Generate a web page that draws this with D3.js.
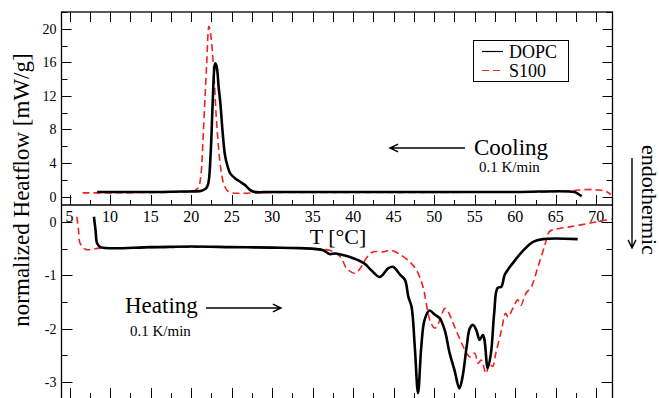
<!DOCTYPE html>
<html>
<head>
<meta charset="utf-8">
<script src="https://cdn.jsdelivr.net/npm/d3@7"></script>
<style>
  body { margin: 0; background: #fff; }
  text { font-family: "Liberation Serif", "Times New Roman", serif; fill: #000; }
</style>
</head>
<body>
<div id="chart-area"></div>
<script>
// cooling scans, [T in °C, heatflow in mW/g]
var coolDOPC = [[8.4,0.55],[12,0.55],[16,0.55],[19,0.6],[20.5,0.62],[21.3,0.7],[21.8,0.95],[22.1,1.5],[22.4,5],
    [22.65,11],[22.85,15.2],[22.97,15.9],[23.15,15.5],[23.4,13],[23.6,11.2],[23.9,7.5],[24.2,4.8],[24.5,3.6],
    [24.8,2.8],[25.4,2.2],[26.0,1.8],[26.6,1.4],[27.1,0.95],[27.6,0.6],[30,0.55],[40,0.55],[50,0.55],[60,0.55],
    [67.3,0.55],[67.8,0.3],[68.2,0.05]];
var coolS100 = [[6.6,0.45],[10,0.45],[15,0.5],[19,0.55],[20.4,0.7],[20.9,1.1],[21.2,2.5],[21.5,7.6],[21.9,15.5],
    [22.2,20.3],[22.45,19],[22.75,15.5],[23.1,9.5],[23.4,5.6],[23.7,3.0],[24.0,1.6],[24.4,0.8],[24.8,0.5],
    [30,0.5],[40,0.5],[50,0.5],[60,0.55],[65,0.6],[67,0.7],[68.3,0.83],[70,0.8],[71.2,0.63],[71.8,0.24]];

// heating scans
var heatDOPC = [[8.0,0.1],[8.2,-0.15],[8.4,-0.4],[8.8,-0.47],[15,-0.47],[20,-0.46],[25,-0.47],[30,-0.48],
    [33.4,-0.49],[36.3,-0.53],[37.1,-0.6],[37.8,-0.59],[40.0,-0.68],[41.4,-0.78],[42.2,-0.9],[43.3,-1.03],
    [44.3,-0.87],[44.9,-0.84],[45.8,-0.99],[46.4,-1.09],[46.8,-1.4],[47.2,-1.59],[47.6,-2.34],[48.0,-3.21],
    [48.4,-2.34],[48.8,-1.84],[49.4,-1.66],[50.1,-1.74],[50.7,-1.81],[51.3,-2.03],[51.9,-2.46],[52.5,-2.78],
    [53.1,-3.12],[53.5,-2.9],[54.0,-2.34],[54.4,-1.99],[54.8,-1.93],[55.2,-2.03],[55.6,-2.21],[56.0,-2.12],
    [56.2,-2.21],[56.6,-2.74],[57.0,-2.46],[57.4,-1.71],[57.8,-1.24],[58.3,-1.21],[58.7,-0.99],[59.7,-0.77],
    [61.0,-0.53],[62.2,-0.37],[63.4,-0.32],[67.7,-0.32]];
var heatS100 = [[5.9,0.1],[6.1,-0.15],[6.3,-0.4],[6.95,-0.51],[8.8,-0.49],[15,-0.48],[20,-0.47],[25,-0.47],
    [30,-0.48],[35,-0.5],[37.1,-0.53],[38.4,-0.65],[39.2,-0.87],[40.2,-0.96],[41.0,-0.84],[41.6,-0.68],
    [42.4,-0.56],[43.7,-0.56],[44.7,-0.53],[45.9,-0.62],[47.0,-0.75],[47.8,-0.9],[48.6,-1.21],[49.2,-1.68],
    [49.6,-1.9],[50.1,-1.99],[50.7,-1.84],[51.3,-1.62],[51.7,-1.68],[52.5,-1.96],[53.4,-2.28],[54.0,-2.46],
    [54.4,-2.53],[55.0,-2.46],[55.4,-2.65],[55.8,-2.59],[56.4,-2.84],[56.8,-2.65],[57.2,-2.71],[57.6,-2.46],
    [58.3,-2.03],[58.8,-1.71],[59.1,-1.78],[59.7,-1.62],[60.3,-1.46],[60.7,-1.56],[61.3,-1.34],[62.0,-1.21],
    [62.8,-0.84],[63.6,-0.46],[64.2,-0.18],[64.8,-0.14],[66.7,-0.09],[69.6,-0.01],[71.2,0.04],[71.9,0.06]];

var xTicks = [5, 10, 15, 20, 25, 30, 35, 40, 45, 50, 55, 60, 65, 70];
var topTicks = [0, 4, 8, 12, 16, 20];
var bottomTicks = [0, -1, -2, -3];
var seriesNames = ["DOPC", "S100"];

var width = 659, height = 398;
var plotLeft = 61.5, plotRight = 612.5, plotTop = 12, plotMid = 205, plotBottom = 399;
var red = "#ee2222";

var svg = d3.select("#chart-area").append("svg")
    .attr("width", width)
    .attr("height", height);

var x = d3.scaleLinear().domain([4, 72]).range([plotLeft, plotRight]);
var yTop = d3.scaleLinear().domain([-1, 22]).range([plotMid, plotTop]);
var yBot = d3.scaleLinear().domain([0.32, -3.32]).range([plotMid, plotBottom]);

var minorX = d3.range(5, 72, 2.5);

function isMajor(v, step) { return Math.abs(v / step - Math.round(v / step)) < 1e-6; }

// clip paths
svg.append("clipPath").attr("id", "clipTop").append("rect")
    .attr("x", plotLeft).attr("y", plotTop).attr("width", plotRight - plotLeft).attr("height", plotMid - plotTop);
svg.append("clipPath").attr("id", "clipBot").append("rect")
    .attr("x", plotLeft).attr("y", plotMid).attr("width", plotRight - plotLeft).attr("height", plotBottom - plotMid);

// ticks
var ticks = svg.append("g").attr("stroke", "#000").attr("stroke-width", 1);
minorX.forEach(function (t) {
    var px = Math.round(x(t)) + 0.5;
    var maj = isMajor(t, 5);
    ticks.append("line").attr("x1", px).attr("x2", px).attr("y1", plotTop).attr("y2", plotTop + 10);
    ticks.append("line").attr("x1", px).attr("x2", px).attr("y1", plotMid).attr("y2", plotMid - (maj ? 10 : 5));
    ticks.append("line").attr("x1", px).attr("x2", px).attr("y1", plotBottom).attr("y2", plotBottom - (maj ? 11 : 6));
});
d3.range(0, 22.1, 2).forEach(function (t) {
    var py = Math.round(yTop(t)) + 0.5;
    var len = isMajor(t, 4) ? 10 : 6;
    ticks.append("line").attr("x1", plotLeft).attr("x2", plotLeft + len).attr("y1", py).attr("y2", py);
    ticks.append("line").attr("x1", plotRight).attr("x2", plotRight - len).attr("y1", py).attr("y2", py);
});
d3.range(0, -3.3, -0.5).forEach(function (t) {
    var py = Math.round(yBot(t)) + 0.5;
    var len = isMajor(t, 1) ? 11 : 6;
    ticks.append("line").attr("x1", plotLeft).attr("x2", plotLeft + len).attr("y1", py).attr("y2", py);
    ticks.append("line").attr("x1", plotRight).attr("x2", plotRight - len).attr("y1", py).attr("y2", py);
});

// frames
svg.append("rect")
    .attr("x", plotLeft).attr("y", plotTop).attr("width", plotRight - plotLeft).attr("height", plotBottom - plotTop)
    .attr("fill", "none").attr("stroke", "#000").attr("stroke-width", 1.3);
svg.append("line")
    .attr("x1", plotLeft).attr("x2", plotRight).attr("y1", plotMid).attr("y2", plotMid)
    .attr("stroke", "#000").attr("stroke-width", 1.3);

// tick labels
svg.selectAll(".xlab").data(xTicks).enter().append("text")
    .attr("x", function (d) { return x(d); })
    .attr("y", plotMid + 17)
    .attr("text-anchor", "middle")
    .style("font-size", "16px")
    .text(function (d) { return d; });
svg.selectAll(".ytlab").data(topTicks).enter().append("text")
    .attr("x", plotLeft - 5)
    .attr("y", function (d) { return yTop(d) + 5; })
    .attr("text-anchor", "end")
    .style("font-size", "14px")
    .text(function (d) { return d; });
svg.selectAll(".yblab").data(bottomTicks).enter().append("text")
    .attr("x", plotLeft - 5)
    .attr("y", function (d) { return yBot(d) + 5; })
    .attr("text-anchor", "end")
    .style("font-size", "14px")
    .text(function (d) { return d; });

// series
var lineTop = d3.line().x(function (d) { return x(d[0]); }).y(function (d) { return yTop(d[1]); })
    .curve(d3.curveCatmullRom.alpha(0.5));
var lineBot = d3.line().x(function (d) { return x(d[0]); }).y(function (d) { return yBot(d[1]); })
    .curve(d3.curveCatmullRom.alpha(0.5));

var gTop = svg.append("g").attr("clip-path", "url(#clipTop)");
var gBot = svg.append("g").attr("clip-path", "url(#clipBot)");

gTop.append("path").attr("d", lineTop(coolS100))
    .attr("fill", "none").attr("stroke", red).attr("stroke-width", 1.6).attr("stroke-dasharray", "7,4");
gTop.append("path").attr("d", lineTop(coolDOPC))
    .attr("fill", "none").attr("stroke", "#000").attr("stroke-width", 2.6);
gBot.append("path").attr("d", lineBot(heatS100))
    .attr("fill", "none").attr("stroke", red).attr("stroke-width", 1.6).attr("stroke-dasharray", "7,4");
gBot.append("path").attr("d", lineBot(heatDOPC))
    .attr("fill", "none").attr("stroke", "#000").attr("stroke-width", 2.6);

// legend
var legend = svg.append("g");
legend.append("rect").attr("x", 473.5).attr("y", 40.5).attr("width", 95).attr("height", 41)
    .attr("fill", "#fff").attr("stroke", "#000").attr("stroke-width", 1);
legend.append("line").attr("x1", 482).attr("x2", 503).attr("y1", 51.5).attr("y2", 51.5)
    .attr("stroke", "#000").attr("stroke-width", 1.2);
legend.append("line").attr("x1", 482).attr("x2", 503).attr("y1", 70.5).attr("y2", 70.5)
    .attr("stroke", red).attr("stroke-width", 1.2).attr("stroke-dasharray", "7,4");
legend.selectAll("text").data(seriesNames).enter().append("text")
    .attr("x", 509)
    .attr("y", function (d, i) { return 57.5 + i * 19; })
    .style("font-size", "18px")
    .text(function (d) { return d; });

// annotations
function arrow(x1, y1, x2, y2) {
    var a = Math.atan2(y2 - y1, x2 - x1), h = 9, w = 0.45;
    svg.append("path")
        .attr("d", "M" + x1 + "," + y1 + "L" + x2 + "," + y2 +
            "M" + (x2 - h * Math.cos(a - w)) + "," + (y2 - h * Math.sin(a - w)) +
            "L" + x2 + "," + y2 +
            "L" + (x2 - h * Math.cos(a + w)) + "," + (y2 - h * Math.sin(a + w)))
        .attr("fill", "none").attr("stroke", "#000").attr("stroke-width", 1.4);
}

svg.append("text").attr("x", 474).attr("y", 155).style("font-size", "23px").text("Cooling");
svg.append("text").attr("x", 479).attr("y", 172).style("font-size", "15px").text("0.1 K/min");
arrow(465, 148, 390, 148);

svg.append("text").attr("x", 125).attr("y", 313).style("font-size", "23px").text("Heating");
svg.append("text").attr("x", 130).attr("y", 336).style("font-size", "15px").text("0.1 K/min");
arrow(206, 308, 281, 308);

svg.append("text").attr("x", 338).attr("y", 244).attr("text-anchor", "middle")
    .style("font-size", "22px").text("T [°C]");

svg.append("text")
    .attr("transform", "translate(29,190) rotate(-90)")
    .attr("text-anchor", "middle")
    .style("font-size", "23px")
    .text("normalized Heatflow [mW/g]");

svg.append("text")
    .attr("transform", "translate(642,200) rotate(90)")
    .attr("text-anchor", "middle")
    .style("font-size", "22px")
    .text("endothermic");
arrow(632, 158, 632, 248);
</script>
</body>
</html>
